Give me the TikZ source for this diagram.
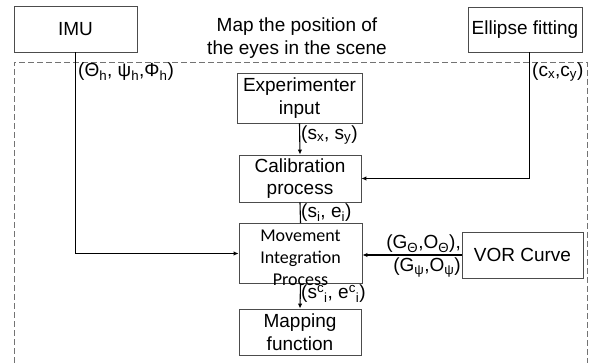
\documentclass[tikz,border=0pt]{standalone}
\usepackage{fontspec}
\setmainfont{Liberation Sans}
\newfontfamily\calibrifont{Carlito}
\usetikzlibrary{arrows.meta,positioning}
\newcommand{\boxfont}{\fontsize{19}{22.5}\selectfont}
\tikzset{block/.style={draw=black!70,line width=0.9pt,inner sep=0pt,align=center,font=\boxfont},
    link/.style={draw,line width=1.1pt,-{Latex[length=5pt,width=4.5pt]}},
    plain link/.style={draw,line width=1.1pt,-},
    frame/.style={draw=black!55,line width=0.9pt,dash pattern=on 6pt off 3pt},
    lbl/.style={font=\boxfont,inner sep=0pt,anchor=west}}

\begin{document}
\begin{tikzpicture}[x=1pt,y=-1pt]
    \useasboundingbox (0,0) rectangle (595,363);
    % dashed region, open at the bottom
    \draw[frame] (14,363) |- (587,62) -- (587,363);
    \node[font=\boxfont,align=center,inner sep=0pt] (title) at (297,38) {Map the position of\\the eyes in the scene};

    % sources outside the region
    \node[block,minimum width=123pt,minimum height=46pt] (imu) at (75.5,29) {IMU};
    \node[block,minimum width=114pt,minimum height=45pt] (ellipse) at (525,29.5) {Ellipse fitting};

    % processing chain
    \node[block,minimum width=125pt,minimum height=50pt] (exper) at (299.5,98) {Experimenter\\input};
    \node[block,minimum width=122pt,minimum height=47pt] (calib) at (300,178.5) {Calibration\\process};
    \node[block,minimum width=123pt,minimum height=60pt] (move) at (300.5,253.5) {};
    \node[font=\calibrifont\fontsize{18}{22}\selectfont,align=center,inner sep=0pt] (movetext) at (300.5,258) {Movement\\Integration\\Process};
    \node[block,minimum width=122pt,minimum height=46pt] (mapping) at (300,332) {Mapping\\function};
    \node[block,minimum width=121pt,minimum height=46pt] (vor) at (522.5,255) {VOR Curve};

    \coordinate (ecorner) at (529.5,178.5);
    \path[link] (imu.south) |- (move.west);
    \path[link] (ellipse.south -| ecorner) -- (ecorner) -- (calib.east);
    \path[link] (exper.south) -- (calib.north);
    \path[plain link] (calib.south) -- (move.north);
    \path[link] (move.south) -- (mapping.north);
    \path[link] (vor.west) -- (vor.west -| move.east);

    % signal labels
    \node[lbl] (headangles) at (78,72) {(Θ\textsubscript{h}, ψ\textsubscript{h},Φ\textsubscript{h})};
    \node[lbl] (centre) at (532,72) {(c\textsubscript{x},c\textsubscript{y})};
    \node[lbl] (target) at (301,135) {(s\textsubscript{x}, s\textsubscript{y})};
    \node[lbl] (calibout) at (301,213) {(s\textsubscript{i}, e\textsubscript{i})};
    \node[lbl] (moveout) at (301,294) {(s\textsuperscript{c}\textsubscript{i}, e\textsuperscript{c}\textsubscript{i})};
    \node[lbl,anchor=south east] (gainsup) at (461,253) {(G\textsubscript{Θ},O\textsubscript{Θ}),};
    \node[lbl,anchor=north east] (gainslow) at (461,258) {(G\textsubscript{ψ},O\textsubscript{ψ})};
\end{tikzpicture}
\end{document}
